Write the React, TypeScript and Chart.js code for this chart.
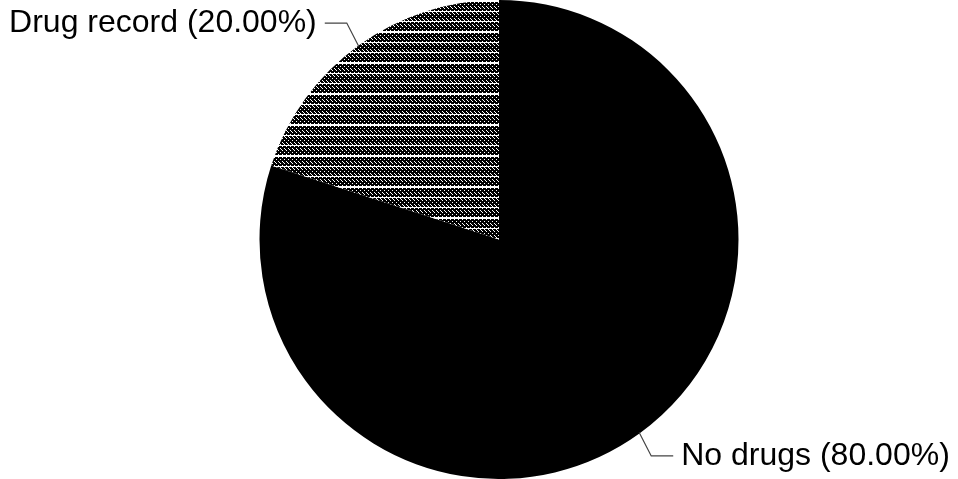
import React, { useEffect, useRef } from "react";
import { Chart, registerables } from "chart.js";

Chart.register(...registerables);

const categories: string[] = ["No drugs", "Drug record"];
const values: number[] = [80, 20];

function makeHatch(): CanvasPattern | string {
  const c = document.createElement("canvas");
  const w = 4;
  const h = 31;
  c.width = w;
  c.height = h;
  const g = c.getContext("2d");
  if (!g) return "#444";
  g.fillStyle = "#000";
  g.fillRect(0, 0, w, h);
  g.fillStyle = "#fff";
  for (let y = 0; y < h; y++) {
    for (let x = 0; x < w; x++) {
      if (y % 2 === 0 && x % 4 === (y % 4 === 0 ? 0 : 2)) g.fillRect(x, y, 1, 1);
      else if (y % 2 === 1 && x % 4 === (y % 4 === 1 ? 1 : 3) && y % 6 === 1) g.fillRect(x, y, 1, 1);
    }
  }
  g.fillRect(0, 0, w, 2);
  g.fillRect(0, 11, w, 1);
  g.fillRect(0, 21, w, 1);
  const ctx = document.createElement("canvas").getContext("2d");
  const p = ctx ? ctx.createPattern(c, "repeat") : null;
  return p || "#444";
}

const leaderPlugin = {
  id: "leaderLabels",
  afterDatasetsDraw(chart: any) {
    const ctx = chart.ctx;
    const meta = chart.getDatasetMeta(0);
    const total = values.reduce((a, b) => a + b, 0);
    meta.data.forEach((arc: any, i: number) => {
      const { x, y, startAngle, endAngle, outerRadius } = arc.getProps(
        ["x", "y", "startAngle", "endAngle", "outerRadius"],
        true
      );
      const mid = (startAngle + endAngle) / 2;
      const cos = Math.cos(mid);
      const sin = Math.sin(mid);
      const dir = cos >= 0 ? 1 : -1;
      const x0 = x + cos * (outerRadius - 1);
      const y0 = y + sin * (outerRadius - 1);
      const x1 = x + cos * (outerRadius + 28) - dir * 5;
      const y1 = y + sin * (outerRadius + 28);
      const x2 = x1 + dir * 22;
      ctx.save();
      ctx.strokeStyle = "#444";
      ctx.lineWidth = 1.2;
      ctx.beginPath();
      ctx.moveTo(x0, y0);
      ctx.lineTo(x1, y1);
      ctx.lineTo(x2, y1);
      ctx.stroke();
      const pct = ((values[i] / total) * 100).toFixed(2);
      const text = `${categories[i]} (${pct}%)`;
      ctx.fillStyle = "#000";
      ctx.font = "32px 'Liberation Sans', Arial, sans-serif";
      ctx.textBaseline = "middle";
      ctx.textAlign = dir > 0 ? "left" : "right";
      ctx.fillText(text, x2 + dir * 8, y1);
      ctx.restore();
    });
  },
};

export default function App() {
  const ref = useRef<HTMLCanvasElement | null>(null);
  useEffect(() => {
    if (!ref.current) return;
    const hatch = makeHatch();
    const chart = new Chart(ref.current, {
      type: "pie",
      data: {
        labels: categories,
        datasets: [
          {
            data: values,
            backgroundColor: ["#000000", hatch as any],
            borderWidth: 0,
          },
        ],
      },
      options: {
        animation: false,
        responsive: true,
        maintainAspectRatio: false,
        devicePixelRatio: 1,
        layout: { padding: { left: 40, right: 0, top: 0, bottom: 0 } },
        plugins: {
          legend: { display: false },
          tooltip: { enabled: false },
        },
      },
      plugins: [leaderPlugin],
    });
    return () => chart.destroy();
  }, []);
  return (
    <div
      style={{
        position: "fixed",
        left: 0,
        top: 0,
        width: 958,
        height: 479,
        background: "#fff",
      }}
    >
      <canvas ref={ref} />
    </div>
  );
}
